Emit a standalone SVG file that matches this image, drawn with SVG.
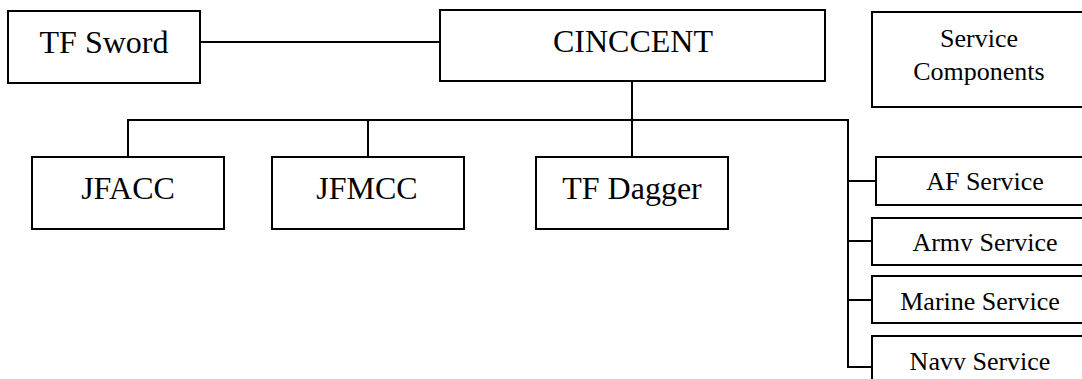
<svg xmlns="http://www.w3.org/2000/svg" width="1082" height="379" viewBox="0 0 1082 379">
<style>
.box{fill:#fff;stroke:#000;stroke-width:2}
.conn line{stroke:#000;stroke-width:2}
text{font-family:'Liberation Serif','Times New Roman','DejaVu Serif',serif;fill:#000;text-anchor:middle}
.big{font-size:32px}
.sm{font-size:26px}
</style>
<defs>
<clipPath id="clipArmy"><rect x="872" y="218" width="220" height="33"/></clipPath>
<clipPath id="clipNavy"><rect x="872" y="336" width="220" height="34"/></clipPath>
</defs>
<rect width="1082" height="379" fill="#fff"/>
<g id="connectors" class="conn">
<line x1="200" y1="42" x2="440" y2="42"/>
<line x1="632" y1="81" x2="632" y2="157"/>
<line x1="127" y1="120" x2="848" y2="120"/>
<line x1="128" y1="119" x2="128" y2="157"/>
<line x1="368" y1="119" x2="368" y2="157"/>
<line x1="848" y1="119" x2="848" y2="368"/>
<line x1="847" y1="181" x2="876" y2="181"/>
<line x1="847" y1="241" x2="872" y2="241"/>
<line x1="847" y1="300" x2="872" y2="300"/>
<line x1="847" y1="367" x2="872" y2="367"/>
</g>
<g id="tf-sword"><rect class="box" x="8" y="11" width="192" height="72"/><text class="big" x="104" y="53" font-family="Liberation Serif, serif">TF Sword</text></g>
<g id="cinccent"><rect class="box" x="440" y="10" width="385" height="71"/><text class="big" x="633" y="52" font-family="Liberation Serif, serif">CINCCENT</text></g>
<g id="service-components"><rect class="box" x="872" y="12" width="220" height="95"/><text class="sm" x="979" y="47">Service</text><text class="sm" x="979" y="80">Components</text></g>
<g id="jfacc"><rect class="box" x="32" y="157" width="192" height="72"/><text class="big" x="128" y="199">JFACC</text></g>
<g id="jfmcc"><rect class="box" x="272" y="157" width="192" height="72"/><text class="big" x="367" y="199">JFMCC</text></g>
<g id="tf-dagger"><rect class="box" x="536" y="157" width="192" height="72"/><text class="big" x="632" y="199">TF Dagger</text></g>
<g id="af-service"><rect class="box" x="876" y="157" width="216" height="48"/><text class="sm" x="985" y="190">AF Service</text></g>
<g id="army-service"><rect class="box" x="872" y="218" width="220" height="47"/><text class="sm" x="985" y="251" clip-path="url(#clipArmy)">Army Service</text></g>
<g id="marine-service"><rect class="box" x="872" y="276" width="220" height="47"/><text class="sm" x="980" y="310">Marine Service</text></g>
<g id="navy-service"><rect class="box" x="872" y="336" width="220" height="60"/><text class="sm" x="980" y="370" clip-path="url(#clipNavy)">Navy Service</text></g>
</svg>
